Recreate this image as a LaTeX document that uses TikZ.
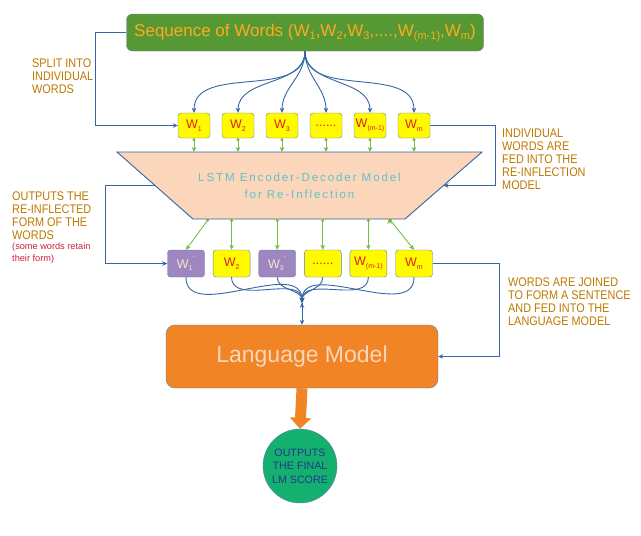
\documentclass[tikz,border=0pt]{standalone}
\usepackage{fontspec}
\setmainfont{Liberation Sans}
\newfontfamily\notefont[FakeStretch=0.87]{Liberation Sans}
\newfontfamily\spacedfont[LetterSpace=16]{Liberation Sans}
\usetikzlibrary{positioning, arrows.meta}

\definecolor{linkblue}{RGB}{52,101,164}
\definecolor{edgeblue}{RGB}{95,125,170}
\definecolor{seqgreen}{RGB}{86,153,52}
\definecolor{seqtext}{RGB}{255,170,30}
\definecolor{wordyellow}{RGB}{255,250,0}
\definecolor{wordred}{RGB}{225,30,30}
\definecolor{feedgreen}{RGB}{118,190,72}
\definecolor{peach}{RGB}{252,214,186}
\definecolor{lstmtext}{RGB}{95,195,200}
\definecolor{inflpurple}{RGB}{158,135,192}
\definecolor{infltext}{RGB}{242,234,200}
\definecolor{lmorange}{RGB}{241,133,37}
\definecolor{lmtext}{RGB}{252,214,186}
\definecolor{scoregreen}{RGB}{20,176,112}
\definecolor{scoretext}{RGB}{35,55,140}
\definecolor{notebrown}{RGB}{190,120,0}
\definecolor{notered}{RGB}{200,30,60}

\newcommand{\wlab}[1]{W\raisebox{-2.5pt}{\fontsize{7}{7}\selectfont#1}}
\newcommand{\wacc}[1]{W\raisebox{-2.5pt}{\fontsize{7}{7}\selectfont#1}\raisebox{6pt}{\fontsize{8}{8}\selectfont\textasciigrave}}
\newcommand{\tsub}[1]{\raisebox{-3pt}{\fontsize{11}{11}\selectfont#1}}

\begin{document}
\begin{tikzpicture}[x=1pt,y=1pt,on grid,node distance=44pt,
  link/.style={draw=linkblue,line width=0.9pt,-{Stealth[length=5pt,width=4.5pt]}},
  feed/.style={draw=feedgreen,line width=0.9pt,{Circle[length=3pt]}-{Stealth[length=5pt,width=4.5pt]}},
  word/.style={draw=edgeblue,fill=wordyellow,rounded corners=3pt,minimum width=32pt,minimum height=25pt,inner sep=0pt,text=wordred,font=\fontsize{12.5}{14}\selectfont},
  inflword/.style={word,minimum width=37pt,minimum height=27pt},
  changed/.style={inflword,fill=inflpurple,text=infltext},
  seqbox/.style={draw=edgeblue,fill=seqgreen,rounded corners=6pt,minimum width=357pt,minimum height=37pt,text=seqtext,font=\fontsize{17}{20}\selectfont},
  lstmshape/.style={draw=linkblue,line width=0.9pt,fill=peach},
  lstm/.style={inner sep=0pt,align=center,text=lstmtext,font=\spacedfont\fontsize{11.6}{17}\selectfont},
  lmbox/.style={draw=edgeblue,fill=lmorange,rounded corners=9pt,minimum width=272pt,minimum height=63pt,text=lmtext,font=\fontsize{23}{26}\selectfont},
  score/.style={circle,draw=edgeblue,fill=scoregreen,minimum size=74pt,inner sep=0pt,align=center,text=scoretext,font=\fontsize{10.7}{13.5}\selectfont},
  note/.style={anchor=north west,inner sep=0pt,align=left,text=notebrown,font=\notefont\fontsize{12.5}{12.8}\selectfont},
  smallnote/.style={note,text=notered,font=\fontsize{9.2}{11.7}\selectfont},
  fatarrow/.style={draw=lmorange,line width=11pt,-{Triangle[length=11pt,width=21pt]}}]
  \useasboundingbox (0,0) rectangle (641,-536);

  \node[seqbox]   (seq)   at (305,-32.5)  {Sequence of Words (W\tsub{1},W\tsub{2},W\tsub{3},....,W\tsub{(m-1)},W\tsub{m})};

  \node[word]     (w1)    at (194,-125.5) {\wlab{1}};
  \node[word]     (w2)    [right=of w1]   {\wlab{2}};
  \node[word]     (w3)    [right=of w2]   {\wlab{3}};
  \node[word]     (wdots) [right=of w3]   {......};
  \node[word]     (wmm)   [right=of wdots] {\wlab{(m-1)}};
  \node[word]     (wm)    [right=of wmm]  {\wlab{m}};

  \coordinate (lstmtop)  at (299.5,-152);
  \coordinate (lstmbot)  at (299.5,-219);
  \coordinate (lstmwest) at (155,-185.5);
  \coordinate (lstmeast) at (443.5,-185.5);
  \filldraw[lstmshape] (117,-152) -- (482,-152) -- (405,-219) -- (193,-219) -- cycle;
  \node[lstm]     (lstm)  at (299.5,-186) {LSTM Encoder-Decoder Model\\for Re-Inflection};

  \node[changed]  (r1)    at (186,-263.5) {\wacc{1}};
  \node[inflword] (r2)    [right=45.6pt of r1]    {\wlab{2}};
  \node[changed]  (r3)    [right=45.6pt of r2]    {\wacc{3}};
  \node[inflword] (rdots) [right=45.6pt of r3]    {......};
  \node[inflword] (rmm)   [right=45.6pt of rdots] {\wlab{(m-1)}};
  \node[inflword] (rm)    [right=45.6pt of rmm]   {\wlab{m}};

  \node[lmbox]    (lm)    at (302,-356.5) {Language Model};
  \node[score]    (score) at (300,-466)   {OUTPUTS\\THE FINAL\\LM SCORE};
  \coordinate     (join)  at ([yshift=22pt]lm.north);

  \node[note]      (splitnote) at (32,-59)   {SPLIT INTO\\INDIVIDUAL\\WORDS};
  \node[note]      (feednote)  at (502,-129) {INDIVIDUAL\\WORDS ARE\\FED INTO THE\\RE-INFLECTION\\MODEL};
  \node[note]      (outnote)   at (12,-192)  {OUTPUTS THE\\RE-INFLECTED\\FORM OF THE\\WORDS};
  \node[smallnote] (keepnote)  at (12,-243)  {(some words retain\\their form)};
  \node[note]      (joinnote)  at (508,-278) {WORDS ARE JOINED\\TO FORM A SENTENCE\\AND FED INTO THE\\LANGUAGE MODEL};

  \path[link]
    (seq.south) edge[out=-90,in=90] (w1.north)
    (seq.south) edge[out=-90,in=90] (w2.north)
    (seq.south) edge[out=-90,in=90] (w3.north)
    (seq.south) edge[out=-90,in=90] (wdots.north)
    (seq.south) edge[out=-90,in=90] (wmm.north)
    (seq.south) edge[out=-90,in=90] (wm.north)
    (r1.south)    edge[out=-90,in=90] (join)
    (r2.south)    edge[out=-90,in=90] (join)
    (r3.south)    edge[out=-90,in=90] (join)
    (rdots.south) edge[out=-90,in=90] (join)
    (rmm.south)   edge[out=-90,in=90] (join)
    (rm.south)    edge[out=-90,in=90] (join)
    (join)        edge (lm.north);

  \draw[link] (seq.west) -- ++(-31,0) |- (w1.west);
  \draw[link] (wm.east) -- ++(65,0) |- (lstmeast);
  \draw[link] (lstmwest) -- ++(-50,0) |- (r1.west);
  \draw[link] (rm.east) -- ++(67,0) |- (lm.east);

  \path[feed]
    (w1.south)    edge (w1.south |- lstmtop)
    (w2.south)    edge (w2.south |- lstmtop)
    (w3.south)    edge (w3.south |- lstmtop)
    (wdots.south) edge (wdots.south |- lstmtop)
    (wmm.south)   edge (wmm.south |- lstmtop)
    (wm.south)    edge (wm.south |- lstmtop)
    ([xshift=-91pt]lstmbot)   edge (r1.north)
    (r2.north |- lstmbot)    edge (r2.north)
    (r3.north |- lstmbot)    edge (r3.north)
    (rdots.north |- lstmbot) edge (rdots.north)
    (rmm.north |- lstmbot)   edge (rmm.north)
    ([xshift=90pt]lstmbot)   edge (rm.north);

  \draw[fatarrow] (lm.south) -- (score.north);
\end{tikzpicture}
\end{document}
